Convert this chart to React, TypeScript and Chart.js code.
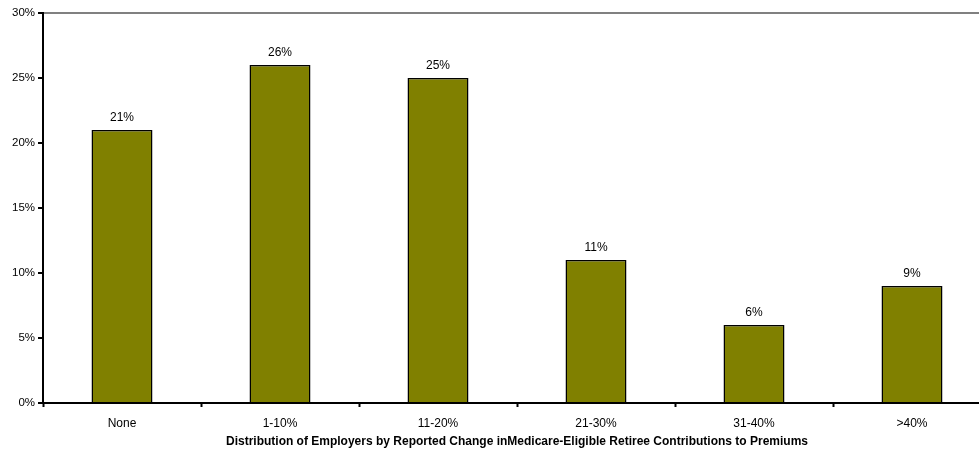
import React, { useEffect, useRef } from "react";
import { Chart, registerables } from "chart.js";

Chart.register(...registerables);

const categories = ["None", "1-10%", "11-20%", "21-30%", "31-40%", ">40%"];
const values = [21, 26, 25, 11, 6, 9];
const yTicks = [0, 5, 10, 15, 20, 25, 30];
const xTitle = "Distribution of Employers by Reported Change inMedicare-Eligible Retiree Contributions to Premiums";

const FONT = "'Liberation Sans', Arial, Helvetica, sans-serif";

const dataLabels = {
  id: "dataLabels",
  afterDatasetsDraw(chart: any) {
    const ctx = chart.ctx;
    const meta = chart.getDatasetMeta(0);
    ctx.save();
    ctx.font = `12px ${FONT}`;
    ctx.fillStyle = "#000";
    ctx.textAlign = "center";
    ctx.textBaseline = "middle";
    meta.data.forEach((el: any, i: number) => {
      ctx.fillText(values[i] + "%", el.x, el.y - 12.5);
    });
    ctx.restore();
  },
};

export default function App() {
  const ref = useRef<HTMLCanvasElement | null>(null);
  useEffect(() => {
    if (!ref.current) return;
    const chart = new Chart(ref.current, {
      type: "bar",
      data: {
        labels: categories,
        datasets: [
          {
            data: values,
            backgroundColor: "#808000",
            borderColor: "#000",
            borderWidth: 1.5,
            barPercentage: 0.386,
            categoryPercentage: 1,
          },
        ],
      },
      options: {
        animation: false,
        responsive: true,
        maintainAspectRatio: false,
        layout: { padding: { top: 13, right: 1, left: 0, bottom: 0 } },
        plugins: { legend: { display: false }, tooltip: { enabled: false } },
        scales: {
          x: {
            offset: true,
            afterFit: (scale: any) => {
              scale.height = 48;
            },
            grid: {
              display: true,
              drawOnChartArea: false,
              offset: true,
              tickLength: 4,
              tickColor: "#000",
              tickWidth: 2,
              color: "#000",
            },
            border: { color: "#000", width: 2 },
            ticks: {
              color: "#000",
              font: { family: FONT, size: 12 },
              padding: 9,
              maxRotation: 0,
            },
            title: {
              display: true,
              text: xTitle,
              color: "#000",
              font: { family: FONT, size: 12, weight: "bold" },
              padding: { top: 0, bottom: 2 },
            },
          },
          y: {
            min: 0,
            max: 30,
            afterBuildTicks: (scale: any) => {
              scale.ticks = yTicks.map((v) => ({ value: v }));
            },
            afterFit: (scale: any) => {
              scale.width = 43;
            },
            grid: {
              display: true,
              drawOnChartArea: true,
              color: (c: any) => (c.tick && c.tick.value === 30 ? "#808080" : "rgba(0,0,0,0)"),
              lineWidth: 2,
              tickColor: "#000",
              tickWidth: 2,
              tickLength: 5,
            },
            border: { color: "#000", width: 2 },
            ticks: {
              color: "#000",
              font: { family: FONT, size: 11.5 },
              padding: 3,
              callback: (v: any) => v + "%",
            },
          },
        },
      },
      plugins: [dataLabels],
    });
    return () => chart.destroy();
  }, []);
  return (
    <div style={{ position: "fixed", left: 0, top: 0, width: 979, height: 451, overflow: "hidden", background: "#fff" }}>
      <div style={{ position: "absolute", left: 0, top: 0, width: 992, height: 451 }}>
        <canvas ref={ref} />
      </div>
    </div>
  );
}
